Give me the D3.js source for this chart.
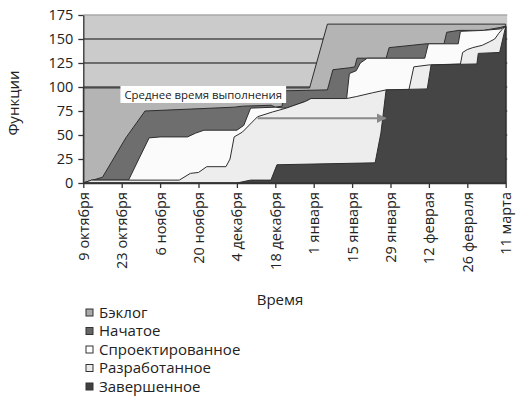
<!DOCTYPE html>
<html>
<head>
<meta charset="utf-8">
<script src="https://cdnjs.cloudflare.com/ajax/libs/d3/7.8.5/d3.min.js"></script>
<style>
    body { margin: 0; background: #fff; }
    text { font-family: "Open Sans", sans-serif; fill: #222; }
</style>
</head>
<body>
<div id="chart"></div>
<script>
// ---- data: [day since 9 Oct, cumulative features] ----
var backlog = [[0, 99], [82.5, 99], [89, 165.5], [154, 165.5]];
var started = [[0, 0], [7, 6], [15.5, 47], [22.5, 75], [39, 77], [55, 79], [58, 80], [68.5, 81], [70, 79], [72.5, 80],
    [73, 96], [89, 97], [91, 118], [97, 120], [99, 121], [99.8, 130], [110.4, 130], [111.5, 141], [125, 145],
    [131.5, 145], [132.5, 157], [137, 159], [146, 159], [152, 162], [154, 163.5]];
var designed = [[0, 0], [3, 3], [16.5, 3], [24, 47], [28, 48], [38, 48], [41, 52], [44, 55], [56, 55], [58.5, 60],
    [61, 78], [70, 79], [73, 78], [74, 78], [81, 85], [83, 88], [96, 88], [97, 114], [99.5, 117], [101, 125],
    [103.5, 130], [124.5, 130], [125.8, 145], [136.7, 145], [137.5, 158], [146, 159], [152, 160.5], [154, 163]];
var developed = [[0, 0], [3, 3], [35, 3], [39, 10], [42, 11], [45, 17], [52, 17], [53.5, 25], [55, 48], [58, 53],
    [63.5, 69], [69, 74], [74, 78], [81, 85], [83, 88], [96, 88], [99.5, 90], [105.5, 94], [110.4, 97], [118.7, 97],
    [120.5, 121], [126, 123], [126.8, 123], [137.5, 124], [138.3, 136], [140, 139], [142, 141], [145.5, 143.5],
    [148, 147], [150, 150], [151.5, 156], [153, 161], [154, 163]];
var done = [[0, 0], [56, 0], [61, 3], [68.4, 3], [70.6, 19], [106.4, 21], [108.5, 52], [110.4, 97], [125.4, 98],
    [126.8, 123], [143.5, 124], [144, 135], [151.8, 136], [154, 163]];

var seriesNames = ["Бэклог", "Начатое", "Спроектированное", "Разработанное", "Завершенное"];
var tickDays = [0, 14, 28, 42, 56, 70, 84, 98, 112, 126, 140, 154];
var tickLabels = ["9 октября", "23 октября", "6 ноября", "20 ноября", "4 декабря", "18 декабря",
    "1 января", "15 января", "29 января", "12 феврая", "26 февраля", "11 марта"];
var yTicks = [0, 25, 50, 75, 100, 125, 150, 175];
var leadTime = [63.5, 110.2];   // arrow from / to (days)
var leadLevel = 67.5;           // arrow height (features)

// ---- styles ----
var fills = ["#b4b4b4", "#6e6e6e", "#fbfbfb", "#ededed", "#454545"];
var legendFills = ["#a9a9a9", "#666666", "#ffffff", "#ececec", "#404040"];

makePlot();

function makePlot() {
    var svgWidth = 519;
    var svgHeight = 406;
    var left = 83.3, right = 505.7, top = 15, bottom = 183;

    var svg = d3.select("#chart")
        .append("svg")
        .attr("width", svgWidth)
        .attr("height", svgHeight);

    var xScale = d3.scaleLinear().domain([0, 154]).range([left, right]);
    var yScale = d3.scaleLinear().domain([0, 175]).range([bottom, top]);

    // plot background + grid
    svg.append("rect")
        .attr("x", left).attr("y", yScale(175))
        .attr("width", right - left + 1.5).attr("height", yScale(0) - yScale(175))
        .attr("fill", "#cbcbcb");
    svg.append("g").selectAll("line")
        .data(yTicks.filter(d => d > 0))
        .enter().append("line")
        .attr("x1", left).attr("x2", right + 1.5)
        .attr("y1", d => yScale(d)).attr("y2", d => yScale(d))
        .attr("stroke", d => d == 175 ? "#a8a8a8" : "#4d4d4d")
        .attr("stroke-width", 1.4);

    // stacked cumulative areas, drawn back to front
    var areaGen = d3.area()
        .x(d => xScale(d[0]))
        .y0(yScale(0))
        .y1(d => yScale(d[1]));
    var layers = [backlog, started, designed, developed, done];
    svg.append("g").selectAll("path")
        .data(layers)
        .enter().append("path")
        .attr("d", d => areaGen(d))
        .attr("fill", (d, i) => fills[i])
        .attr("stroke", "#2e2e2e")
        .attr("stroke-width", 1)
        .attr("stroke-linejoin", "round");

    // axes
    var leftAxis = d3.axisLeft(yScale).tickValues(yTicks).tickSize(5).tickSizeOuter(0);
    var bottomAxis = d3.axisBottom(xScale).tickValues(tickDays).tickSize(5).tickSizeOuter(0)
        .tickFormat((d, i) => tickLabels[i]);

    var gy = svg.append("g")
        .attr("transform", `translate(${left}, 0)`)
        .call(leftAxis);
    gy.selectAll("text").attr("font-size", 14.5).attr("x", -10).attr("fill", "#222");
    var gx = svg.append("g")
        .attr("transform", `translate(0, ${bottom})`)
        .call(bottomAxis);
    gx.selectAll("text")
        .attr("font-size", 14.5)
        .attr("fill", "#222")
        .attr("transform", "rotate(-90)")
        .attr("text-anchor", "end")
        .attr("x", -9)
        .attr("y", 0)
        .attr("dy", "0.35em");
    svg.selectAll(".domain, .tick line").attr("stroke", "#333").attr("stroke-width", 1.3);

    // axis titles
    svg.append("text")
        .attr("transform", `translate(19, 103) rotate(-90)`)
        .attr("text-anchor", "middle")
        .attr("font-size", 15)
        .text("Функции");
    svg.append("text")
        .attr("x", 280).attr("y", 305)
        .attr("text-anchor", "middle")
        .attr("font-size", 15)
        .text("Время");

    // average lead time annotation
    svg.append("defs").append("marker")
        .attr("id", "arrow")
        .attr("viewBox", "0 0 10 10")
        .attr("refX", 9).attr("refY", 5)
        .attr("markerWidth", 5).attr("markerHeight", 5)
        .attr("orient", "auto")
        .append("path")
        .attr("d", "M0,0L10,5L0,10z")
        .attr("fill", "#8a8a8a");
    svg.append("line")
        .attr("x1", xScale(leadTime[0])).attr("x2", xScale(leadTime[1]))
        .attr("y1", yScale(leadLevel)).attr("y2", yScale(leadLevel))
        .attr("stroke", "#8a8a8a").attr("stroke-width", 2)
        .attr("marker-end", "url(#arrow)");

    var note = svg.append("g");
    var noteText = note.append("text")
        .attr("x", xScale(15)).attr("y", yScale(87.5))
        .attr("font-size", 11.4)
        .text("Среднее время выполнения");
    var bb = noteText.node().getBBox();
    note.insert("rect", "text")
        .attr("x", bb.x - 4).attr("y", bb.y - 1)
        .attr("width", bb.width + 8).attr("height", bb.height + 2)
        .attr("fill", "#fff");

    // legend
    var legend = svg.append("g").selectAll("g")
        .data(seriesNames)
        .enter().append("g")
        .attr("transform", (d, i) => `translate(86, ${312.5 + i * 18.5})`);
    legend.append("rect")
        .attr("x", 0).attr("y", -3.5)
        .attr("width", 7).attr("height", 7)
        .attr("fill", (d, i) => legendFills[i])
        .attr("stroke", "#333").attr("stroke-width", 1);
    legend.append("text")
        .attr("x", 13).attr("y", 5)
        .attr("font-size", 15)
        .text(d => d);
}
</script>
</body>
</html>
